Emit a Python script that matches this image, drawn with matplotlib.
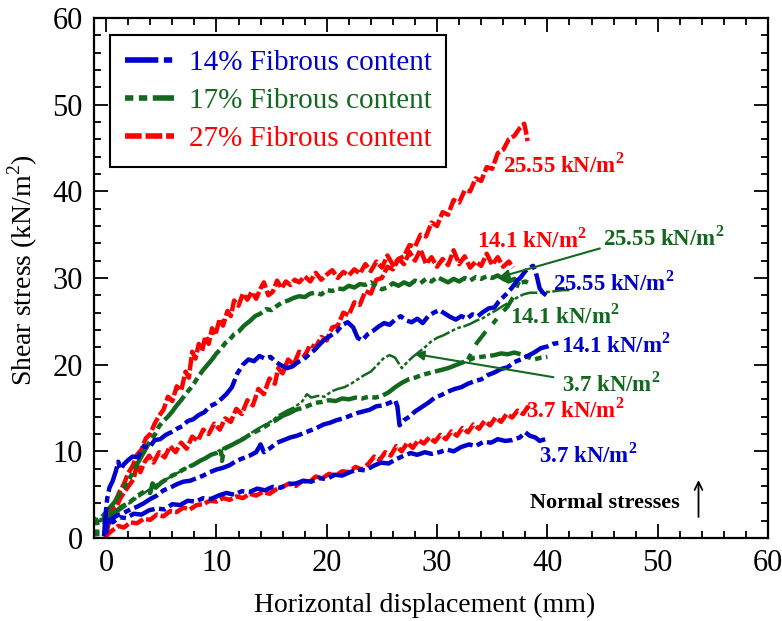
import matplotlib
matplotlib.use("Agg")
import matplotlib.pyplot as plt
from matplotlib.lines import Line2D

plt.rcParams['font.family'] = ['Liberation Serif', 'DejaVu Serif']
plt.rcParams['mathtext.fontset'] = 'custom'
plt.rcParams['mathtext.rm'] = 'Liberation Serif'
plt.rcParams['mathtext.bf'] = 'Liberation Serif:bold'

BLUE = '#0000CC'
GREEN = '#12691E'
RED = '#FF0000'

# Shear stress (kN/m^2) vs horizontal displacement (mm), pairs of (x, y)
blue_37 = [(-0.2,0.2),(-0.1,1.6),(0.2,2.1),(0.6,1.8),(1.2,2.4),(1.8,2.3),(2.5,2.8),(3.2,2.7),(3.9,3.2),(4.6,3.4),
           (5.3,3.3),(6.0,3.9),(6.7,3.8),(7.4,4.3),(8.1,4.2),(8.8,4.6),(9.5,4.5),(10.2,4.9),(10.9,5.2),(11.6,5.0),
           (12.3,5.4),(13.0,5.3),(13.7,5.7),(14.4,5.5),(15.1,5.9),(15.8,5.8),(16.5,6.2),(17.2,6.3),(17.9,6.6),(18.6,6.5),
           (19.3,6.9),(20.0,6.8),(20.7,7.3),(21.4,7.2),(22.1,7.6),(22.8,7.9),(23.5,7.8),(24.2,8.3),(24.9,8.7),(25.6,8.6),
           (26.3,9.1),(27.0,9.5),(27.6,9.8),(28.2,9.6),(28.9,9.9),(29.5,9.7),(30.2,9.9),(30.9,10.2),(31.5,10.0),(32.2,10.5),
           (32.9,10.8),(33.5,10.6),(34.2,11.1),(34.9,11.0),(35.5,11.4),(36.2,11.2),(36.8,11.3),(37.5,11.6),(38.0,12.2),(38.4,11.8),
           (38.9,11.6),(39.3,11.2),(39.8,11.4)]

blue_141 = [(0.0,0.5),(0.1,1.8),(0.5,2.2),(1.0,2.6),(1.6,2.9),(2.2,3.3),(2.8,3.6),(3.4,4.0),(4.0,4.5),(4.6,4.9),
            (5.2,5.5),(5.8,5.8),(6.4,6.2),(7.0,6.5),(7.6,6.6),(8.2,6.9),(8.8,7.2),(9.4,7.6),(10.0,7.9),(10.6,8.1),
            (11.2,8.4),(11.8,8.9),(12.4,9.2),(13.0,9.5),(13.6,9.9),(14.0,10.8),(14.3,9.9),(14.9,10.4),(15.5,11.0),(16.1,11.3),
            (16.7,11.6),(17.3,11.8),(17.9,12.1),(18.5,12.4),(19.1,12.7),(19.7,13.1),(20.3,13.3),(20.9,13.6),(21.5,13.8),(22.1,14.1),
            (22.7,14.4),(23.3,14.6),(23.9,14.8),(24.5,15.2),(25.1,15.3),(25.7,15.6),(26.2,15.9),(26.4,15.2),(26.6,13.0),(27.0,13.6),
            (27.5,14.0),(28.0,14.6),(28.6,15.1),(29.2,15.6),(29.8,16.2),(30.4,16.5),(31.0,16.9),(31.6,17.2),(32.2,17.4),(32.8,17.8),
            (33.4,18.1),(34.0,18.3),(34.6,18.8),(35.2,19.1),(35.8,19.5),(36.4,19.7),(37.0,20.3),(37.6,20.6),(38.2,21.0),(38.8,21.4),
            (39.4,21.9),(40.0,22.1),(40.5,22.4),(41.0,22.5)]

blue_2555 = [(-0.1,0.5),(-0.1,2.0),(0.0,3.3),(0.1,4.6),(0.3,5.8),(0.6,6.6),(0.9,7.8),(1.1,8.8),(1.3,7.9),(1.6,8.5),
             (2.0,9.0),(2.4,9.4),(2.9,9.3),(3.4,10.6),(3.9,10.4),(4.4,11.3),(4.9,11.4),(5.4,11.9),(5.9,12.2),(6.4,12.6),
             (6.9,12.9),(7.4,13.5),(7.9,13.7),(8.4,14.2),(8.9,14.5),(9.4,15.2),(9.9,15.5),(10.4,16.0),(10.9,16.6),(11.4,17.4),
             (11.9,19.0),(12.4,20.0),(12.9,20.6),(13.4,20.4),(13.9,21.0),(14.4,20.7),(14.9,20.9),(15.4,20.3),(15.9,19.9),(16.4,19.6),
             (16.9,19.8),(17.4,20.3),(17.9,20.6),(18.4,21.2),(18.9,21.7),(19.4,22.4),(19.9,23.0),(20.4,23.4),(20.9,23.8),(21.4,24.6),
             (21.9,24.9),(22.4,24.3),(22.8,23.1),(23.2,22.8),(23.7,23.5),(24.2,23.9),(24.7,24.4),(25.2,24.8),(25.7,24.6),(26.2,25.2),
             (26.7,25.6),(27.2,25.1),(27.7,24.9),(28.2,25.3),(28.7,24.8),(29.2,25.6),(29.7,26.0),(30.2,26.3),(30.7,25.9),(31.2,25.5),
             (31.7,25.2),(32.2,25.6),(32.7,25.3),(33.2,25.8),(33.7,25.6),(34.2,26.1),(34.7,26.5),(35.2,26.6),(35.6,27.3),(36.0,27.8),
             (36.4,28.3),(36.8,28.9),(37.2,29.6),(37.6,30.1),(38.0,30.8),(38.4,31.2),(38.7,31.4),(38.9,30.9),(39.1,29.9),(39.3,28.8),
             (39.6,28.3),(39.9,28.0)]

green_37 = [(-1.0,0.2),(-1.0,2.2),(-0.6,2.0),(0.0,2.3),(0.5,2.8),(1.0,3.2),(1.5,3.7),(2.0,4.0),(2.5,4.5),(3.0,5.0),
            (3.5,5.4),(4.0,5.2),(4.2,6.3),(4.5,5.8),(5.0,6.4),(5.5,6.8),(6.0,7.2),(6.5,7.5),(7.0,7.9),(7.5,8.2),
            (8.0,8.5),(8.5,8.9),(9.0,9.2),(9.5,9.6),(10.0,9.8),(10.4,10.2),(10.5,8.9),(10.7,10.3),(11.2,10.6),(11.8,11.0),
            (12.4,11.4),(13.0,11.9),(13.6,12.3),(14.2,12.7),(14.8,13.2),(15.4,13.6),(16.0,14.1),(16.6,14.4),(17.2,14.8),(17.8,15.0),
            (18.4,15.3),(19.0,15.6),(19.6,15.7),(20.2,15.9),(20.8,15.8),(21.4,16.1),(22.0,16.0),(22.6,16.2),(23.2,16.1),(23.8,16.3),
            (24.4,16.2),(25.0,16.4),(25.6,16.8),(26.2,17.4),(26.8,17.9),(27.4,18.3),(28.0,18.5),(28.6,18.8),(29.2,19.0),(29.8,19.2),
            (30.4,19.4),(31.0,19.6),(31.6,19.9),(32.2,20.2),(32.8,20.5),(33.4,20.8),(34.0,20.9),(34.6,21.0),(35.2,21.1),(35.8,21.3),
            (36.4,21.2),(37.0,21.4),(37.6,21.2),(38.2,20.9),(38.8,20.6),(39.4,20.8),(40.0,20.9)]

green_141 = [(-0.3,1.6),(0.3,2.4),(1.0,3.0),(1.7,3.6),(2.4,4.3),(3.1,4.9),(3.8,5.5),(4.5,6.1),(5.2,6.6),(5.9,7.1),
             (6.6,7.6),(7.3,8.1),(8.0,8.6),(8.7,9.0),(9.4,9.5),(10.1,10.0),(10.8,10.5),(11.5,10.9),(12.2,11.4),(12.9,11.9),
             (13.6,12.5),(14.3,13.0),(15.0,13.5),(15.7,14.2),(16.4,14.7),(17.1,15.1),(17.8,15.8),(18.2,16.6),(18.6,16.2),(19.2,16.4),
             (19.8,16.3),(20.4,16.9),(21.0,17.2),(21.6,17.4),(22.2,17.8),(22.8,18.3),(23.4,18.8),(24.0,19.2),(24.6,20.0),(25.2,20.8),
             (25.7,21.1),(26.2,20.8),(26.5,20.2),(26.8,19.6),(27.3,20.3),(27.8,20.9),(28.3,21.4),(28.8,21.9),(29.4,22.6),(30.0,23.1),
             (30.6,23.4),(31.2,23.8),(31.8,24.2),(32.4,24.4),(33.0,24.7),(33.6,25.1),(34.2,25.4),(34.8,25.9),(35.4,26.3),(36.0,26.8),
             (36.6,27.2),(37.2,27.7),(37.8,28.1),(38.4,28.3),(39.0,28.3),(39.6,28.4),(40.2,28.4),(40.8,28.5),(41.4,28.6),(42.0,28.6)]

green_141_jump = [(32.8,20.6),(33.6,22.5),(34.4,23.8),(35.1,24.8),(35.8,25.9),(36.4,26.7),(36.9,27.8),(37.3,29.2),(37.6,30.0)]

green_2555 = [(-0.8,0.2),(-0.8,2.1),(-0.4,2.4),(0.0,3.0),(0.4,3.6),(0.8,4.2),(1.2,5.0),(1.6,5.8),(2.0,6.6),(2.4,7.5),
              (2.8,8.5),(3.2,9.4),(3.6,10.3),(4.0,11.2),(4.4,11.9),(4.8,12.9),(5.2,13.5),(5.6,14.0),(6.0,14.6),(6.4,15.3),
              (6.8,15.9),(7.2,16.6),(7.6,17.2),(8.0,17.9),(8.4,18.7),(8.8,19.4),(9.2,20.0),(9.6,20.6),(10.0,21.3),(10.4,21.8),
              (10.8,22.5),(11.2,22.9),(11.6,23.5),(12.0,23.8),(12.5,24.5),(13.0,25.0),(13.5,25.6),(14.0,25.9),(14.5,26.4),(15.0,26.3),
              (15.5,26.8),(16.0,27.2),(16.5,27.4),(17.0,27.7),(17.5,27.9),(18.0,27.8),(18.5,28.2),(19.0,28.3),(19.5,28.1),(20.0,28.6),
              (20.5,28.5),(21.0,28.8),(21.5,28.7),(22.0,29.1),(22.5,28.9),(23.0,29.3),(23.5,29.2),(24.0,29.5),(24.5,29.0),(25.0,28.7),
              (25.5,28.9),(26.0,29.4),(26.5,29.1),(27.0,29.5),(27.5,29.2),(28.0,29.7),(28.5,29.4),(29.0,29.9),(29.5,29.6),(30.0,30.1),
              (30.5,29.8),(31.0,29.5),(31.5,29.9),(32.0,29.6),(32.5,30.0),(33.0,29.7),(33.5,30.1),(34.0,29.9),(34.5,30.2),(35.0,30.0),
              (35.5,30.3),(36.0,29.9),(36.5,29.6),(37.0,29.9),(37.5,29.4),(38.0,29.6),(38.5,29.3)]

red_37 = [(-0.1,0.0),(0.2,0.5),(0.6,0.9),(1.1,1.4),(1.6,1.2),(2.2,1.8),(2.8,1.7),(3.4,2.2),(4.0,2.1),(4.6,2.7),
          (5.2,2.5),(5.8,3.1),(6.4,3.0),(7.0,3.5),(7.6,3.3),(8.2,3.8),(8.8,3.9),(9.4,4.3),(10.0,4.2),(10.6,4.6),
          (11.2,4.4),(11.8,4.8),(12.4,4.6),(13.0,5.1),(13.6,4.9),(14.2,5.3),(14.8,5.1),(15.4,5.6),(16.0,5.9),(16.6,6.3),
          (17.2,6.0),(17.8,6.6),(18.4,6.4),(19.0,7.1),(19.6,6.9),(20.2,7.4),(20.8,7.2),(21.4,7.7),(22.0,7.6),(22.6,8.2),
          (23.2,7.9),(23.8,8.6),(24.3,9.4),(24.8,9.0),(25.3,9.9),(25.8,9.5),(26.3,10.6),(26.8,10.0),(27.3,11.0),(27.8,10.4),
          (28.3,11.3),(28.8,10.9),(29.3,11.6),(29.8,11.1),(30.3,11.9),(30.8,11.4),(31.3,12.3),(31.8,11.8),(32.3,12.7),(32.8,12.2),
          (33.3,13.1),(33.8,12.6),(34.3,13.5),(34.8,13.0),(35.3,13.9),(35.8,13.4),(36.3,14.3),(36.8,13.9),(37.3,14.7),(37.8,14.3),
          (38.2,15.1),(38.5,14.8)]

red_141 = [(0.0,0.5),(0.1,2.0),(0.4,3.2),(0.8,4.1),(1.2,5.3),(1.6,6.2),(2.0,7.5),(2.4,8.3),(2.8,9.6),(3.2,10.2),
           (3.6,11.5),(4.0,12.0),(4.4,13.2),(4.8,14.1),(5.2,14.8),(5.6,16.3),(6.0,15.8),(6.4,17.5),(6.8,17.0),(7.2,19.2),
           (7.5,18.5),(7.8,21.5),(8.1,20.7),(8.4,22.4),(8.7,21.6),(9.0,23.3),(9.3,22.4),(9.6,24.2),(9.9,23.4),(10.3,25.3),
           (10.6,24.5),(11.0,26.2),(11.3,25.6),(11.6,27.4),(12.0,26.8),(12.4,28.2),(12.8,27.5),(13.2,28.4),(13.6,27.6),(14.0,28.8),
           (14.3,29.5),(14.7,28.0),(15.1,28.4),(15.5,29.7),(15.9,28.8),(16.3,29.6),(16.7,29.2),(17.1,29.8),(17.5,29.5),(18.0,30.2),
           (18.5,29.6),(19.0,30.6),(19.5,29.8),(20.0,30.4),(20.5,30.9),(21.0,30.0),(21.5,30.7),(22.0,30.3),(22.5,31.0),(23.0,30.5),
           (23.5,31.6),(24.0,30.8),(24.5,31.9),(25.0,31.2),(25.5,32.6),(26.0,31.5),(26.5,32.2),(27.0,31.6),(27.5,33.0),(28.0,32.0),
           (28.5,33.3),(29.0,31.6),(29.5,32.4),(30.0,31.3),(30.5,32.2),(31.0,31.5),(31.5,33.2),(32.0,31.6),(32.5,32.5),(33.0,31.2),
           (33.5,31.9),(34.0,31.4),(34.5,32.8),(35.0,31.5),(35.5,32.4),(36.0,31.3),(36.5,31.9),(36.9,31.2)]

red_2555 = [(0.0,0.3),(0.2,1.5),(0.5,2.8),(0.9,3.5),(1.3,4.6),(1.7,5.4),(2.1,6.1),(2.5,6.8),(2.8,8.6),(3.1,7.6),
            (3.5,8.8),(3.9,9.5),(4.3,8.7),(4.8,9.9),(5.3,9.3),(5.8,10.6),(6.3,9.9),(6.8,11.0),(7.3,10.3),(7.8,11.7),
            (8.3,11.2),(8.8,12.5),(9.3,12.0),(9.8,13.2),(10.3,12.5),(10.8,13.8),(11.3,13.4),(11.8,14.9),(12.3,14.3),(12.8,15.9),
            (13.3,15.3),(13.8,17.2),(14.3,16.6),(14.8,18.4),(15.3,17.8),(15.6,19.6),(16.0,19.0),(16.5,20.6),(17.0,20.0),(17.5,21.5),
            (18.0,21.0),(18.5,22.3),(19.0,22.0),(19.5,23.2),(20.0,22.8),(20.5,24.3),(21.0,24.5),(21.5,26.0),(22.0,25.7),(22.5,27.2),
            (23.0,26.9),(23.5,28.5),(24.0,28.2),(24.5,29.8),(25.0,30.0),(25.5,31.3),(26.0,31.0),(26.5,32.2),(27.0,32.5),(27.5,33.8),
            (28.0,33.6),(28.5,35.0),(29.0,34.8),(29.5,36.4),(30.0,36.0),(30.5,37.6),(31.0,37.3),(31.5,39.0),(32.0,38.7),(32.5,40.1),
            (33.0,40.0),(33.5,41.5),(34.0,41.2),(34.5,42.8),(35.0,42.6),(35.5,44.4),(36.0,44.8),(36.5,46.0),(37.0,46.4),(37.5,47.3),
            (37.9,47.8),(38.1,46.6),(38.2,45.8)]

legend_labels = ['14% Fibrous content', '17% Fibrous content', '27% Fibrous content']

# line dash patterns for each fibre content
ls_14 = (0, (6, 1, 1.5, 1))
ls_17 = (0, (1.5, 1, 1.5, 1, 7, 1))
ls_27 = (0, (3, 0.7))


def xy(pairs):
    return [p[0] for p in pairs], [p[1] for p in pairs]


fig = plt.figure(figsize=(7.82, 6.21), dpi=100)
ax = fig.add_axes([94 / 782, 1 - 538 / 621, (768 - 94) / 782, (538 - 18) / 621])

lw = 3.2
for s in (red_37, red_141, red_2555):
    ax.plot(*xy(s), color=RED, lw=lw, ls=ls_27)
ax.plot(*xy(green_37), color=GREEN, lw=lw, ls=ls_17)
ax.plot(*xy(green_141), color=GREEN, lw=1.8, ls=ls_17)
ax.plot(*xy(green_141_jump), color=GREEN, lw=3.0, ls=(0, (1.5, 2.5, 4, 2.5)))
ax.plot(*xy(green_2555), color=GREEN, lw=lw, ls=ls_17)
for s in (blue_37, blue_141, blue_2555):
    ax.plot(*xy(s), color=BLUE, lw=lw, ls=ls_14)

ax.set_xlim(-1.1, 60)
ax.set_ylim(0, 60)
ax.set_xticks(range(0, 61, 10))
ax.set_yticks(range(0, 61, 10))
ax.set_xticks(range(0, 61, 2), minor=True)
ax.set_yticks(range(0, 61, 2), minor=True)
ax.tick_params(which='both', direction='in', top=True, right=True, width=1.3, colors='black')
ax.tick_params(which='major', length=10, labelsize=22, pad=8)
ax.tick_params(which='minor', length=5)
for sp in ax.spines.values():
    sp.set_linewidth(1.6)

ax.set_xlabel('Horizontal displacement (mm)', fontsize=20)
ax.set_ylabel('Shear stress (kN/m$^2$)', fontsize=20)
ax.xaxis.set_label_coords(0.49, -0.105)
ax.yaxis.set_label_coords(-0.08, 0.515)

handles = [Line2D([], [], color=BLUE, lw=4, ls=ls_14),
           Line2D([], [], color=GREEN, lw=4, ls=ls_17),
           Line2D([], [], color=RED, lw=4, ls=ls_27)]
leg = ax.legend(handles, legend_labels, loc='upper left', bbox_to_anchor=(0.024, 0.967),
                borderaxespad=0, fontsize=21, handlelength=1.7, handletextpad=0.5,
                labelspacing=0.4, fancybox=False, framealpha=1, edgecolor='black',
                labelcolor=[BLUE, GREEN, RED], borderpad=0.5)
leg.get_frame().set_linewidth(1.5)

bold = dict(fontsize=16.5, fontweight='bold', va='center', ha='left')
ax.text(36.0, 43.0, '25.55 kN/m$^\\mathbf{2}$', color=RED, **bold)
ax.text(33.6, 34.4, '14.1 kN/m$^\\mathbf{2}$', color=RED, **bold)
ax.text(45.0, 34.6, '25.55 kN/m$^\\mathbf{2}$', color=GREEN, **bold)
ax.text(40.5, 29.4, '25.55 kN/m$^\\mathbf{2}$', color=BLUE, **bold)
ax.text(36.6, 25.6, '14.1 kN/m$^\\mathbf{2}$', color=GREEN, **bold)
ax.text(41.2, 22.2, '14.1 kN/m$^\\mathbf{2}$', color=BLUE, **bold)
ax.text(41.3, 17.7, '3.7 kN/m$^\\mathbf{2}$', color=GREEN, **bold)
ax.text(38.1, 14.7, '3.7 kN/m$^\\mathbf{2}$', color=RED, **bold)
ax.text(39.2, 9.6, '3.7 kN/m$^\\mathbf{2}$', color=BLUE, **bold)
ax.text(38.4, 4.0, 'Normal stresses', fontsize=16, fontweight='bold', va='center', ha='left')

arrow_kw = dict(arrowstyle='-|>', color=GREEN, lw=1.5, mutation_scale=14)
ax.annotate('', xy=(35.4, 30.0), xytext=(45.0, 33.5), arrowprops=arrow_kw)
ax.annotate('', xy=(27.7, 21.3), xytext=(40.8, 18.5), arrowprops=arrow_kw)
ax.annotate('', xy=(53.7, 7.0), xytext=(53.7, 2.1),
            arrowprops=dict(arrowstyle='->', color='black', lw=1.3, mutation_scale=14))

fig.savefig('out.png', dpi=100)
